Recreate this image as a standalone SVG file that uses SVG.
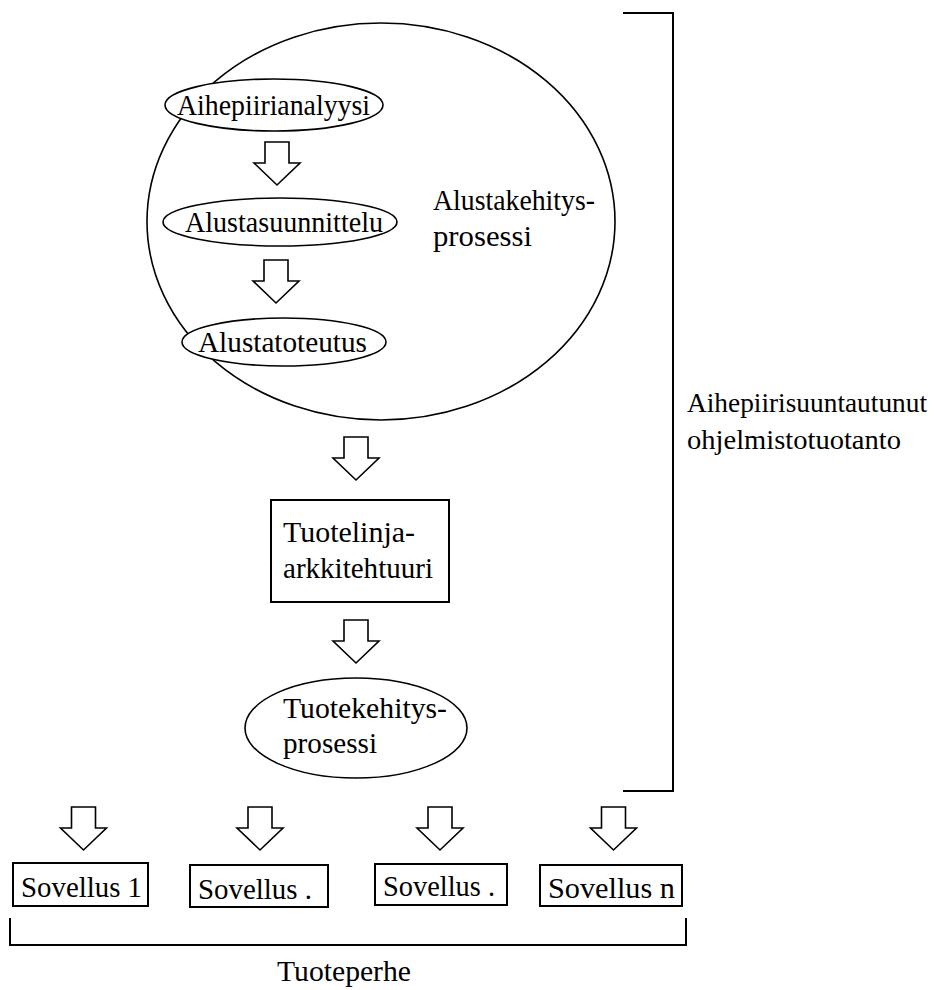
<svg xmlns="http://www.w3.org/2000/svg" width="937" height="990" viewBox="0 0 937 990">
<defs>
<style>
.bg{fill:#fff}
.sh{fill:#fff;stroke:#000;stroke-width:1.6}
.bx{fill:#fff;stroke:#000;stroke-width:2}
.br{fill:none;stroke:#000;stroke-width:2}
.ar{fill:#fff;stroke:#000;stroke-width:1.6;stroke-linejoin:miter}
.t{font-family:"Liberation Serif","Times New Roman","DejaVu Serif",serif;font-size:29px;fill:#000}
.r{font-size:27.5px}
</style>
<polygon id="blk" points="-12,0 12,0 12,21 23,21 0,43 -23,21 -12,21"/>
</defs>
<rect class="bg" x="0" y="0" width="937" height="990"/>

<g id="alustakehitys">
<ellipse class="sh" cx="381" cy="221.5" rx="234" ry="198.5"/>
<text class="t" font-family="Liberation Serif, serif" x="433" y="210" textLength="162" lengthAdjust="spacingAndGlyphs">Alustakehitys-</text>
<text class="t" font-family="Liberation Serif, serif" x="433" y="246" textLength="99" lengthAdjust="spacingAndGlyphs">prosessi</text>
</g>

<g id="aihepiirianalyysi">
<ellipse class="sh" cx="274" cy="105" rx="109" ry="26"/>
<text class="t" font-family="Liberation Serif, serif" x="177" y="115" textLength="193" lengthAdjust="spacingAndGlyphs">Aihepiirianalyysi</text>
</g>

<g id="alustasuunnittelu">
<ellipse class="sh" cx="280" cy="222" rx="117" ry="24"/>
<text class="t" font-family="Liberation Serif, serif" x="185" y="232" textLength="198" lengthAdjust="spacingAndGlyphs">Alustasuunnittelu</text>
</g>

<g id="alustatoteutus">
<ellipse class="sh" cx="284" cy="342" rx="102" ry="24"/>
<text class="t" font-family="Liberation Serif, serif" x="198" y="352" textLength="169" lengthAdjust="spacingAndGlyphs">Alustatoteutus</text>
</g>

<g id="tuotelinja">
<rect class="bx" x="271" y="500" width="178" height="102"/>
<text class="t" font-family="Liberation Serif, serif" x="283" y="542" textLength="132" lengthAdjust="spacingAndGlyphs">Tuotelinja-</text>
<text class="t" font-family="Liberation Serif, serif" x="283" y="578" textLength="150" lengthAdjust="spacingAndGlyphs">arkkitehtuuri</text>
</g>

<g id="tuotekehitys">
<ellipse class="sh" cx="356" cy="728" rx="111" ry="50"/>
<text class="t" font-family="Liberation Serif, serif" x="283" y="718" textLength="164" lengthAdjust="spacingAndGlyphs">Tuotekehitys-</text>
<text class="t" font-family="Liberation Serif, serif" x="283" y="753" textLength="94" lengthAdjust="spacingAndGlyphs">prosessi</text>
</g>

<g id="sovellus1">
<rect class="bx" x="13" y="863" width="135" height="43"/>
<text class="t" font-family="Liberation Serif, serif" x="21" y="897" textLength="121" lengthAdjust="spacingAndGlyphs">Sovellus 1</text>
</g>
<g id="sovellus2">
<rect class="bx" x="190" y="865" width="138" height="42"/>
<text class="t" font-family="Liberation Serif, serif" x="198" y="899" textLength="114" lengthAdjust="spacingAndGlyphs">Sovellus .</text>
</g>
<g id="sovellus3">
<rect class="bx" x="375" y="864" width="132" height="41"/>
<text class="t" font-family="Liberation Serif, serif" x="383" y="896" textLength="112" lengthAdjust="spacingAndGlyphs">Sovellus .</text>
</g>
<g id="sovellusn">
<rect class="bx" x="540" y="865" width="142" height="41"/>
<text class="t" font-family="Liberation Serif, serif" x="548" y="898" textLength="127" lengthAdjust="spacingAndGlyphs">Sovellus n</text>
</g>

<g id="bracket-aihepiiri">
<polyline class="br" points="623,13 673,13 673,791 623,791"/>
<text class="t r" font-family="Liberation Serif, serif" x="687" y="412" textLength="240" lengthAdjust="spacingAndGlyphs">Aihepiirisuuntautunut</text>
<text class="t r" font-family="Liberation Serif, serif" x="687" y="449" textLength="214" lengthAdjust="spacingAndGlyphs">ohjelmistotuotanto</text>
</g>

<g id="bracket-tuoteperhe">
<polyline class="br" points="10,918 10,945 686,945 686,918"/>
<text class="t" font-family="Liberation Serif, serif" x="277" y="981" textLength="134" lengthAdjust="spacingAndGlyphs">Tuoteperhe</text>
</g>

<g id="connectors">
<use href="#blk" class="ar" x="277" y="142"/>
<use href="#blk" class="ar" x="276" y="260"/>
<use href="#blk" class="ar" x="356" y="437"/>
<use href="#blk" class="ar" x="356" y="620"/>
<use href="#blk" class="ar" x="83.5" y="807"/>
<use href="#blk" class="ar" x="260" y="807"/>
<use href="#blk" class="ar" x="440" y="807"/>
<use href="#blk" class="ar" x="613.5" y="807"/>
</g>
</svg>
